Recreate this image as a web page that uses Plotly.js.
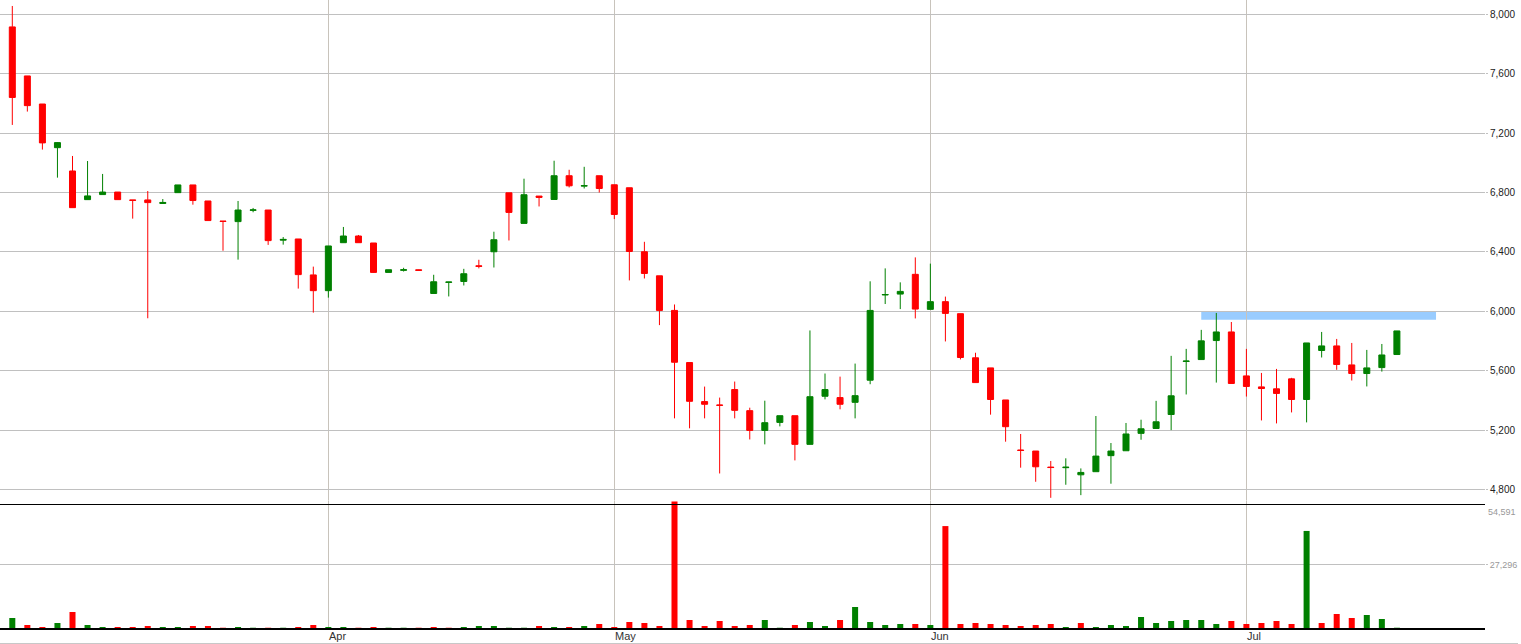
<!DOCTYPE html>
<html>
<head>
<meta charset="utf-8">
<script src="https://cdn.plot.ly/plotly-3.0.1.min.js"></script>
<style>
  html, body { margin: 0; padding: 0; background: #ffffff; }
  #chart { width: 1521px; height: 644px; }
</style>
</head>
<body>
<div id="chart"></div>
<script>
// ---- Data ----
// Daily trading sessions, oldest first; first sessions of Apr/May/Jun/Jul marked below.
const openPx  = [7915,7585,7396,7102,6945,6752,6786,6803,6750,6750,6726,6799,6851,6743,6608,6604,6680,6682,6479,6487,6245,6139,6462,6507,6460,6262,6276,6279,6120,6195,6201,6306,6401,6798,6592,6776,6753,6913,6843,6913,6852,6832,6401,6239,6006,5655,5392,5369,5473,5331,5198,5252,5297,5104,5428,5419,5387,5536,6110,6116,6249,6013,6065,5984,5687,5619,5403,5066,5059,4951,4947,4899,4920,5028,5061,5178,5211,5305,5662,5675,5803,5861,5565,5491,5478,5545,5406,5736,5767,5639,5581,5621,5709];
const highPx  = [8056,7585,7396,7140,7046,7012,6925,6803,6750,6810,6756,6851,6851,6743,6608,6743,6696,6682,6500,6487,6301,6440,6568,6514,6460,6280,6293,6280,6246,6198,6286,6347,6536,6798,6893,6776,7014,6953,6973,6913,6852,6832,6468,6239,6046,5655,5493,5419,5527,5351,5398,5297,5297,5871,5581,5560,5648,6202,6289,6195,6363,6321,6099,5984,5721,5619,5403,5174,5059,4992,5010,4942,5295,5113,5248,5270,5397,5700,5747,5875,5989,5928,5747,5585,5612,5552,5787,5861,5814,5787,5740,5780,5868];
const lowPx   = [7255,7345,7089,6900,6698,6752,6786,6752,6624,5953,6726,6799,6718,6611,6408,6348,6667,6447,6449,6153,5991,6092,6462,6462,6260,6262,6268,6275,6120,6100,6174,6289,6295,6477,6592,6706,6753,6834,6827,6800,6621,6208,6221,5907,5279,5212,5279,4908,5279,5137,5104,5225,4996,5104,5407,5340,5279,5509,6049,6015,5952,6013,5797,5676,5520,5304,5122,4947,4852,4744,4832,4762,4920,4839,5061,5135,5211,5200,5440,5675,5520,5514,5426,5265,5245,5319,5252,5689,5606,5534,5494,5594,5709];
const closePx = [7440,7385,7134,7136,6698,6777,6803,6752,6747,6732,6733,6851,6746,6611,6605,6682,6683,6476,6484,6247,6139,6440,6507,6462,6262,6280,6280,6276,6199,6197,6253,6303,6482,6666,6785,6767,6913,6845,6846,6827,6652,6403,6255,6006,5657,5394,5374,5367,5333,5198,5250,5297,5104,5425,5473,5374,5432,6006,6113,6134,6015,6065,5986,5689,5520,5406,5223,5063,4953,4948,4950,4915,5025,5059,5174,5209,5256,5431,5665,5801,5861,5514,5494,5480,5447,5406,5787,5767,5642,5581,5619,5706,5868];
const volume  = [4316,1295,432,2158,6906,1295,432,432,432,863,432,432,863,863,120,432,120,120,120,432,1295,432,432,120,432,120,120,120,432,120,432,863,863,120,120,863,432,432,863,1726,432,2590,2158,863,54591,3453,863,3021,863,1295,3453,120,1295,2590,863,3453,9064,2590,1295,1726,1726,1295,44000,1726,2158,1726,1295,863,1295,1726,432,2158,432,1295,863,4750,2158,3021,3453,3453,1726,3021,1726,2158,3021,1726,41900,2158,6042,4316,5609,3884,120];
const monthLabels     = ['Apr','May','Jun','Jul'];
const monthStartIndex = [21, 40, 61, 82];
const priceTicks      = [4800,5200,5600,6000,6400,6800,7200,7600,8000];
const volumeTicks     = [27296];
const volumeMaxLabel  = 54591;
const resistanceZone  = [5943, 6000];   // price band
const resistanceFrom  = [79, 94.6];     // session span of the band

// ---- Derived ----
const idx = closePx.map((_, i) => i);
const UP = '#008000', DOWN = '#ff0000';
const volColors = closePx.map((c, i) => (i === 0 || c >= closePx[i - 1]) ? UP : DOWN);

// ---- Geometry helpers (pixels -> paper) ----
const W = 1521, H = 644;
const mL = 0, mR = 36, mT = 0, mB = 16;
const plotH = H - mT - mB;              // 628
const plotW = W - mL - mR;              // 1485
const sepPx = 504;                      // separator between panels
const mainBottom = (plotH - sepPx) / plotH;
const sepY = (plotH - 504.5) / plotH;
const volTop = (plotH - 500.6) / plotH;
const toPaperY = px => (plotH - px) / plotH;

const font = 'Arial, "Liberation Sans", sans-serif';

const candle = {
  type: 'candlestick',
  x: idx, open: openPx, high: highPx, low: lowPx, close: closePx,
  xaxis: 'x', yaxis: 'y',
  increasing: { line: { color: UP, width: 1 }, fillcolor: UP },
  decreasing: { line: { color: DOWN, width: 1 }, fillcolor: DOWN },
  whiskerwidth: 0,
  hoverinfo: 'skip',
  showlegend: false
};

const vol = {
  type: 'bar',
  x: idx, y: volume,
  xaxis: 'x', yaxis: 'y2',
  width: 0.4,
  marker: { color: volColors, line: { width: 0 } },
  hoverinfo: 'skip',
  showlegend: false
};

const monthAnnotations = monthLabels.map((m, k) => ({
  xref: 'x', yref: 'paper', x: monthStartIndex[k], y: toPaperY(636),
  xanchor: 'left', yanchor: 'middle', xshift: -1,
  text: m, showarrow: false,
  font: { family: font, size: 11, color: '#333' }
}));

const layout = {
  width: W, height: H,
  margin: { l: mL, r: mR, t: mT, b: mB, pad: 0 },
  paper_bgcolor: '#ffffff',
  plot_bgcolor: '#ffffff',
  showlegend: false,
  boxgap: 0.43,
  boxgroupgap: 0.3,
  font: { family: font, size: 10, color: '#222' },
  xaxis: {
    type: 'linear',
    range: [-12.3 / 15.05, (plotW - 12.3) / 15.05],
    anchor: 'y2',
    tickmode: 'array',
    tickvals: monthStartIndex,
    ticktext: monthLabels,
    ticks: '',
    showticklabels: false,
    showgrid: true,
    gridcolor: '#c8c3bb',
    gridwidth: 1,
    showline: true,
    linecolor: '#000000',
    linewidth: 2,
    zeroline: false,
    rangeslider: { visible: false },
    fixedrange: true
  },
  yaxis: {
    domain: [mainBottom, 1],
    range: [4702.4, 8096.3],
    side: 'right',
    anchor: 'x',
    tickmode: 'array',
    tickvals: priceTicks,
    tickformat: ',d',
    ticks: 'outside',
    ticklen: 2,
    tickcolor: '#c0c0c0',
    tickfont: { family: font, size: 10, color: '#222' },
    showgrid: true,
    gridcolor: '#c0c0c0',
    gridwidth: 1,
    zeroline: false,
    showline: false,
    fixedrange: true
  },
  yaxis2: {
    domain: [0, volTop],
    range: [0, 55000],
    side: 'right',
    anchor: 'x',
    tickmode: 'array',
    tickvals: volumeTicks,
    tickformat: ',d',
    ticks: 'outside',
    ticklen: 2,
    tickcolor: '#c0c0c0',
    tickfont: { family: font, size: 9, color: '#999' },
    showgrid: true,
    gridcolor: '#c0c0c0',
    gridwidth: 1,
    zeroline: false,
    showline: false,
    fixedrange: true
  },
  shapes: [
    { type: 'rect', xref: 'x', yref: 'y',
      x0: resistanceFrom[0], x1: resistanceFrom[1],
      y0: resistanceZone[0], y1: resistanceZone[1],
      fillcolor: '#99ccff', line: { width: 0 }, layer: 'below' },
    { type: 'line', xref: 'paper', yref: 'paper',
      x0: 0, x1: 1, y0: sepY, y1: sepY,
      line: { color: '#000000', width: 1 } },
    { type: 'line', xref: 'paper', yref: 'paper',
      x0: 0, x1: 1518 / plotW, y0: toPaperY(643.5), y1: toPaperY(643.5),
      line: { color: '#c8c8c8', width: 1 } }
  ],
  annotations: [
    { xref: 'paper', yref: 'y2', x: 1, y: volumeMaxLabel,
      xanchor: 'left', yanchor: 'middle', xshift: 1, yshift: -10.5,
      text: volumeMaxLabel.toLocaleString('en-US'), showarrow: false,
      font: { family: font, size: 9, color: '#999' } }
  ].concat(monthAnnotations)
};

Plotly.newPlot('chart', [vol, candle], layout, { displayModeBar: false, staticPlot: true });
</script>
</body>
</html>
